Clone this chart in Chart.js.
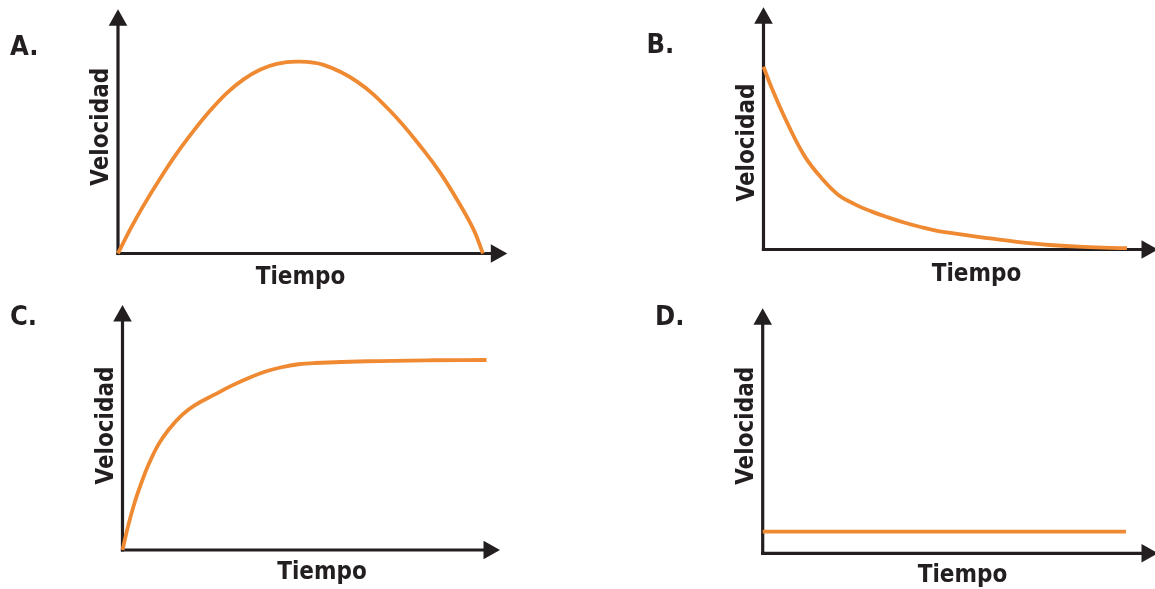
<!DOCTYPE html>
<html>
<head>
<meta charset="utf-8">
<script src="https://cdn.jsdelivr.net/npm/chart.js@4"></script>
<style>
html, body { margin: 0; padding: 0; background: #ffffff; overflow: hidden; }
#wrap { position: relative; width: 1155px; height: 589px; overflow: hidden; background: #ffffff; }
#wrap canvas { position: absolute; left: 0; top: 0; }
</style>
</head>
<body>
<div id="wrap">
  <canvas id="chartA" width="1220" height="589"></canvas>
  <canvas id="chartB" width="1220" height="589"></canvas>
  <canvas id="chartC" width="1220" height="589"></canvas>
  <canvas id="chartD" width="1220" height="589"></canvas>
</div>
<script>
// ---- Data ----
const panelLabels = ['A.', 'B.', 'C.', 'D.'];
const xAxisTitle = 'Tiempo';
const yAxisTitle = 'Velocidad';

const tiempoA = [0, 0.33, 0.69, 1.15, 1.61, 2.06, 2.52, 2.98, 3.44, 3.89, 4.35, 4.90, 5.63, 6.55, 7.46, 8.37, 8.83, 9.29, 9.74, 10];
const velocidadA = [0, 0.94, 1.87, 2.95, 3.95, 4.82, 5.63, 6.33, 6.87, 7.25, 7.48, 7.57, 7.44, 6.78, 5.62, 4.08, 3.18, 2.12, 0.95, 0];

const tiempoB = [0, 0.23, 0.68, 1.14, 1.60, 2.06, 2.52, 2.98, 3.43, 3.89, 4.35, 4.81, 5.19, 6.05, 6.97, 7.88, 8.80, 10];
const velocidadB = [8.54, 7.53, 5.82, 4.34, 3.33, 2.55, 2.11, 1.77, 1.50, 1.25, 1.04, 0.86, 0.76, 0.56, 0.36, 0.21, 0.12, 0.06];

const tiempoC = [0, 0.16, 0.34, 0.53, 0.71, 0.98, 1.26, 1.63, 1.99, 2.54, 3.00, 3.45, 3.91, 4.37, 4.83, 5.29, 6.71, 8.53, 10];
const velocidadC = [0, 1.00, 1.94, 2.74, 3.41, 4.22, 4.82, 5.42, 5.82, 6.25, 6.60, 6.90, 7.16, 7.34, 7.46, 7.51, 7.58, 7.62, 7.63];

const tiempoD = [0, 10];
const velocidadD = [0.85, 0.85];

// ---- Styles ----
const AXIS_COLOR = '#231f20';
const CURVE_COLOR = '#ef8932';
const FONT_FAMILY = "'DejaVu Sans Condensed', 'DejaVu Sans', sans-serif";
const CANVAS_W = 1220, CANVAS_H = 589;

const arrowAxesPlugin = {
  id: 'arrowAxes',
  beforeDatasetsDraw(chart, args, opts) {
    const ctx = chart.ctx;
    const x0 = chart.scales.x.getPixelForValue(0);
    const y0 = chart.scales.y.getPixelForValue(0);
    const lw = 3.2, aLen = 16.5, aHalf = 9.3;
    ctx.save();
    ctx.strokeStyle = AXIS_COLOR;
    ctx.fillStyle = AXIS_COLOR;
    ctx.lineWidth = lw;
    ctx.lineCap = 'butt';
    ctx.beginPath();
    ctx.moveTo(x0, y0 + lw / 2);
    ctx.lineTo(x0, opts.yTip + aLen - 1);
    ctx.stroke();
    ctx.beginPath();
    ctx.moveTo(x0 - lw / 2, y0);
    ctx.lineTo(opts.xTip - aLen + 1, y0);
    ctx.stroke();
    ctx.beginPath();
    ctx.moveTo(x0, opts.yTip);
    ctx.lineTo(x0 - aHalf, opts.yTip + aLen);
    ctx.lineTo(x0 + aHalf, opts.yTip + aLen);
    ctx.closePath();
    ctx.fill();
    ctx.beginPath();
    ctx.moveTo(opts.xTip, y0);
    ctx.lineTo(opts.xTip - aLen, y0 - aHalf);
    ctx.lineTo(opts.xTip - aLen, y0 + aHalf);
    ctx.closePath();
    ctx.fill();
    ctx.restore();
  },
  afterDraw(chart, args, opts) {
    const ctx = chart.ctx;
    ctx.save();
    ctx.fillStyle = AXIS_COLOR;
    ctx.font = 'bold 27px ' + FONT_FAMILY;
    ctx.textBaseline = 'alphabetic';
    ctx.textAlign = 'left';
    ctx.fillText(opts.label, opts.labelX, opts.labelY);
    ctx.restore();
  }
};

function makePanel(id, tiempo, velocidad, cfg) {
  const titleFont = { family: FONT_FAMILY, weight: 'bold', size: 24, lineHeight: 1 };
  return new Chart(document.getElementById(id), {
    type: 'line',
    data: {
      datasets: [{
        data: tiempo.map((t, i) => ({ x: t, y: velocidad[i] })),
        borderColor: CURVE_COLOR,
        borderWidth: 3.8,
        pointRadius: 0,
        fill: false,
        tension: 0.4,
        clip: false
      }]
    },
    options: {
      responsive: false,
      animation: false,
      events: [],
      layout: {
        padding: {
          left: cfg.axisX - 28,
          top: cfg.top,
          right: CANVAS_W - cfg.right,
          bottom: CANVAS_H - (cfg.axisY + 24 + cfg.xTitlePad)
        }
      },
      plugins: {
        legend: { display: false },
        tooltip: { enabled: false },
        arrowAxes: {
          xTip: cfg.xTip, yTip: cfg.yTip,
          label: cfg.label, labelX: cfg.labelX, labelY: cfg.labelY
        }
      },
      scales: {
        x: {
          type: 'linear', min: 0, max: cfg.xMax,
          grid: { display: false, drawTicks: false, tickLength: 0 },
          border: { display: false },
          ticks: { display: false, padding: 0 },
          title: { display: true, text: xAxisTitle, color: AXIS_COLOR, font: titleFont,
                   padding: { top: cfg.xTitlePad, bottom: 0 } }
        },
        y: {
          type: 'linear', min: 0, max: 10,
          grid: { display: false, drawTicks: false, tickLength: 0 },
          border: { display: false },
          ticks: { display: false, padding: 0 },
          title: { display: true, text: yAxisTitle, color: AXIS_COLOR, font: titleFont,
                   padding: { top: 0, bottom: 4 } }
        }
      }
    },
    plugins: [arrowAxesPlugin]
  });
}

makePanel('chartA', tiempoA, velocidadA, {
  axisX: 118, axisY: 253.5, top: 0, right: 483, xMax: 10, xTitlePad: 12,
  xTip: 507.3, yTip: 9.3, label: panelLabels[0], labelX: 10, labelY: 55
});
makePanel('chartB', tiempoB, velocidadB, {
  axisX: 763.5, axisY: 249.5, top: 35.5, right: 1189.5, xMax: 11.72, xTitlePad: 13.3,
  xTip: 1158, yTip: 7.3, label: panelLabels[1], labelX: 646.5, labelY: 53.3
});
makePanel('chartC', tiempoC, velocidadC, {
  axisX: 122.5, axisY: 550, top: 301, right: 521.5, xMax: 10.96, xTitlePad: 11.2,
  xTip: 500, yTip: 305, label: panelLabels[2], labelX: 10, labelY: 325
});
makePanel('chartD', tiempoD, velocidadD, {
  axisX: 762.7, axisY: 553.3, top: 298.3, right: 1162.3, xMax: 11.0, xTitlePad: 10,
  xTip: 1158, yTip: 308.3, label: panelLabels[3], labelX: 655, labelY: 325
});
</script>
</body>
</html>
